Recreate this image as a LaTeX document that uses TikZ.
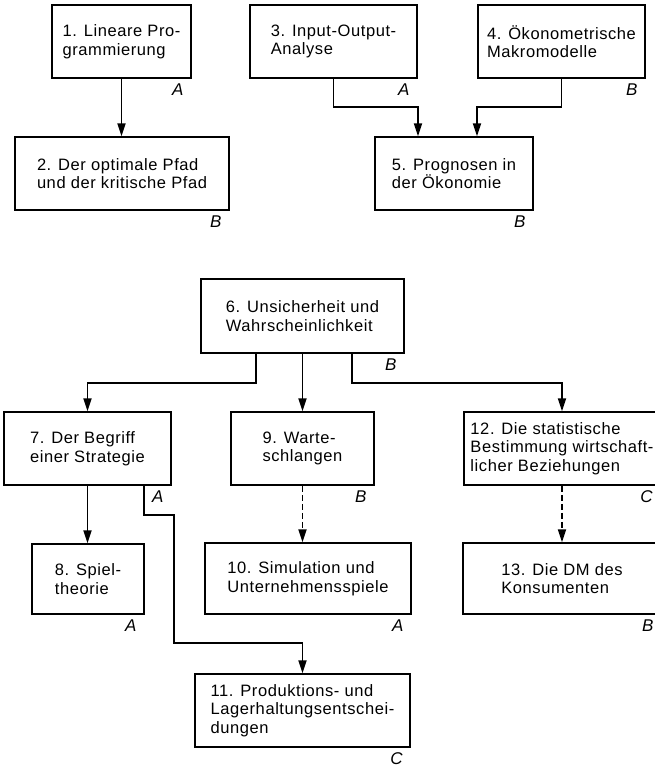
\documentclass[tikz,border=0pt]{standalone}
\usepackage{fontspec}
\setmainfont{Liberation Sans}[LetterSpace=3.5]
\usepackage{tikz}
\usetikzlibrary{arrows.meta}
\tikzset{
    box/.style={draw, line width=1.5pt, minimum height=73pt, align=left,
        inner sep=0pt, font=\fontsize{16.5}{18.5}\selectfont},
    grade/.style={font=\fontsize{17}{17}\selectfont\itshape, anchor=north east,
        inner sep=1pt, xshift=-7pt, yshift=-4pt},
    flow/.style={line width=1.8pt, -{Triangle[length=13pt,width=8pt]}},
    maybe/.style={flow, dash pattern=on 6pt off 3pt}}

\begin{document}
\begin{tikzpicture}[x=1pt, y=-1pt]
    \useasboundingbox (0,0) rectangle (655,769);

    \node[box, minimum width=139pt, label={[grade]south east:A}] (N1) at (121.5,41.5) {1. Lineare Pro-\\grammierung};
    \node[box, minimum width=214pt, label={[grade]south east:B}] (N2) at (122,173.5) {2. Der optimale Pfad\\und der kritische Pfad};
    \node[box, minimum width=167pt, label={[grade]south east:A}] (N3) at (333.5,41.5) {3. Input-Output-\\Analyse};
    \node[box, minimum width=167pt, label={[grade]south east:B}] (N4) at (561.5,41.5) {4. Ökonometrische\\Makromodelle};
    \node[box, minimum width=158pt, label={[grade]south east:B}] (N5) at (454,173.5) {5. Prognosen in\\der Ökonomie};

    \node[box, minimum width=203pt, minimum height=74pt, label={[grade]south east:B}] (N6) at (302.5,316) {6. Unsicherheit und\\Wahrscheinlichkeit};
    \node[box, minimum width=167pt, label={[grade]south east:A}] (N7) at (87.5,448.5) {7. Der Begriff\\einer Strategie};
    \node[box, minimum width=143pt, label={[grade]south east:B}] (N9) at (302.5,448.5) {9. Warte-\\schlangen};
    \node[box, minimum width=196pt, label={[grade]south east:C}] (N12) at (562,448.5) {12. Die statistische\\Bestimmung wirtschaft-\\licher Beziehungen};
    \node[box, minimum width=112pt, minimum height=70pt, label={[grade]south east:A}] (N8) at (88,579) {8. Spiel-\\theorie};
    \node[box, minimum width=206pt, minimum height=71pt, label={[grade]south east:A}] (N10) at (308,578.5) {10. Simulation und\\Unternehmensspiele};
    \node[box, minimum width=198pt, minimum height=71pt, label={[grade]south east:B}] (N13) at (562,578.5) {13. Die DM des\\Konsumenten};
    \node[box, minimum width=215pt, label={[grade]south east:C}] (N11) at (302.5,710.5) {11. Produktions- und\\Lagerhaltungsentschei-\\dungen};

    \draw[flow] (N1.south) -- (N1.south |- N2.north);
    \draw[flow] (N3.south) -- ++(0,28) -| ([xshift=-36pt]N5.north);
    \draw[flow] (N4.south) -- ++(0,28) -| ([xshift=23pt]N5.north);
    \draw[flow] ([xshift=-46.5pt]N6.south) -- ++(0,29) -| (N7.north);
    \draw[flow] (N6.south) -- (N9.north);
    \draw[flow] ([xshift=49.5pt]N6.south) -- ++(0,29) -| (N12.north);
    \draw[flow] (N7.south) -- (N7.south |- N8.north);
    \draw[flow] ([xshift=56.5pt]N7.south) -- ++(0,29) -- ++(30,0) |- ([yshift=30pt]N11.north) -- (N11.north);
    \draw[maybe] (N9.south) -- (N9.south |- N10.north);
    \draw[maybe] (N12.south) -- (N13.north);

\end{tikzpicture}
\end{document}
